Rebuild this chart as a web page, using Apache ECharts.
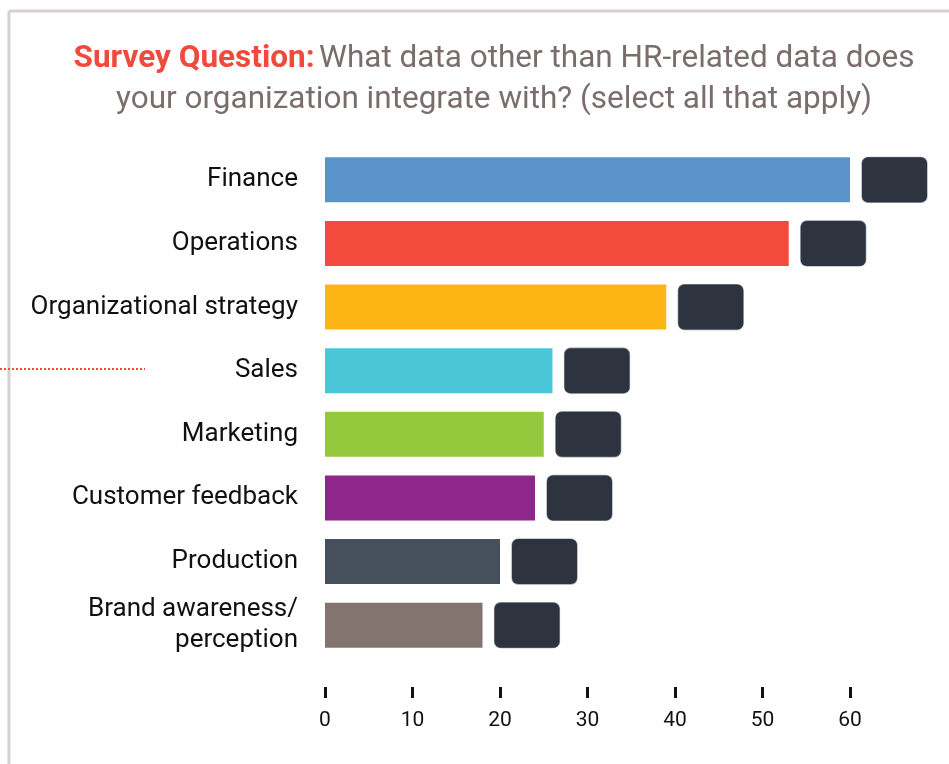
<!DOCTYPE html>
<html>
<head>
<meta charset="utf-8">
<script src="https://cdn.jsdelivr.net/npm/echarts@6/dist/echarts.min.js"></script>
<style>
  html, body { margin: 0; padding: 0; background: #fff; }
  #chart { width: 949px; height: 764px; }
</style>
</head>
<body>
<div id="chart"></div>
<script>
// categories, top to bottom
const categories = ['Finance', 'Operations', 'Organizational strategy', 'Sales', 'Marketing',
  'Customer feedback', 'Production', 'Brand awareness/\nperception']
const values = [60, 53, 39, 26, 25, 24, 20, 18]
const barColors = ['#5b93cb', '#f24a3c', '#fdb415', '#4bc5d8', '#95c93d', '#8e268c', '#46505c', '#83746f']
const xTicks = [0, 10, 20, 30, 40, 50, 60]

const myChart = echarts.init(document.getElementById('chart'))

const options = {
  animation: false,
  textStyle: { fontFamily: 'Roboto' },
  title: {
    left: 489,
    top: 34,
    textAlign: 'center',
    text: '{a|Survey Question:} {b|What data other than HR-related data does}\n{b|your organization integrate with? (select all that apply)}',
    textStyle: {
      rich: {
        a: { color: '#f04a3c', fontWeight: 'bold', fontSize: 31.5, fontFamily: 'Roboto', lineHeight: 41 },
        b: { color: '#7a6e6c', fontWeight: 'normal', fontSize: 31.5, fontFamily: 'Roboto', lineHeight: 41 }
      }
    }
  },
  grid: { left: 325, right: 99, top: 148, bottom: 107 },
  xAxis: {
    type: 'value',
    min: 0,
    max: 60,
    interval: 10,
    offset: 30,
    splitLine: { show: false },
    axisLine: { show: false },
    axisTick: { show: true, length: 11, lineStyle: { color: '#111', width: 3 } },
    axisLabel: {
      color: '#111',
      fontSize: 21,
      margin: 23,
      formatter: v => (xTicks.includes(v) ? String(v) : '')
    }
  },
  yAxis: {
    type: 'category',
    data: categories,
    inverse: true,
    axisLine: { show: false },
    axisTick: { show: false },
    axisLabel: { color: '#111', fontSize: 26, margin: 27, lineHeight: 31, align: 'right' }
  },
  series: [{
    type: 'bar',
    data: values.map((v, i) => ({ value: v, itemStyle: { color: barColors[i] } })),
    barWidth: 45,
    label: {
      show: true,
      position: 'right',
      distance: 12,
      formatter: ' ',
      width: 65,
      height: 45,
      backgroundColor: '#2d3440',
      borderColor: '#9a9ea6',
      borderWidth: 0.6,
      borderRadius: 6,
      color: '#2d3440'
    }
  }],
  graphic: [
    { type: 'line', shape: { x1: 9, y1: 11, x2: 949, y2: 11 }, style: { stroke: '#d6d0ce', lineWidth: 3 }, silent: true },
    { type: 'line', shape: { x1: 9, y1: 11, x2: 9, y2: 764 }, style: { stroke: '#d6d0ce', lineWidth: 3 }, silent: true },
    { type: 'line', shape: { x1: 0, y1: 369, x2: 145, y2: 369 }, style: { stroke: '#f04a3c', lineWidth: 2, lineDash: [2, 2] }, silent: true }
  ]
}

myChart.setOption(options)
</script>
</body>
</html>
